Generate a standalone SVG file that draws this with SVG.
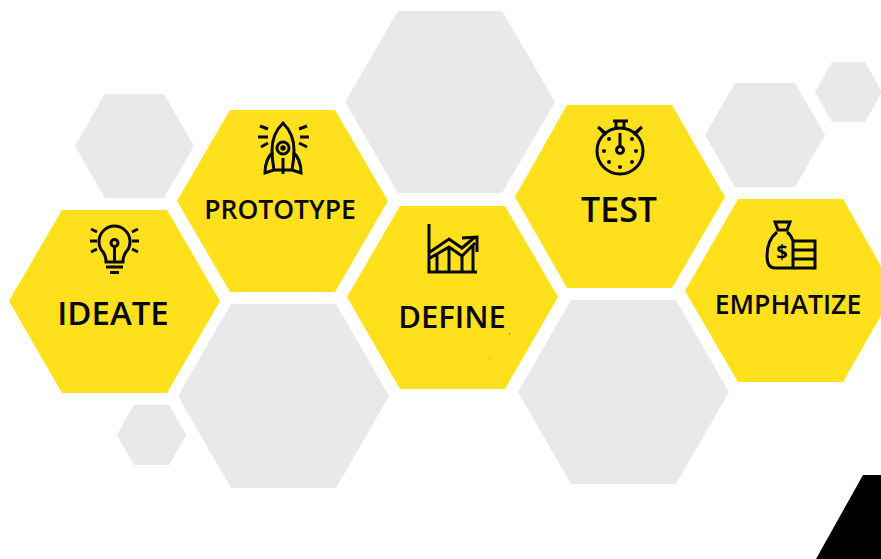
<svg xmlns="http://www.w3.org/2000/svg" width="881" height="559" viewBox="0 0 881 559">
<style>
.g{fill:#e9e9e9}
.y{fill:#fee11c}
.t{font-family:"Open Sans","Liberation Sans",sans-serif;font-weight:600;fill:#080808;text-anchor:middle}
.i{fill:none;stroke:#080808;stroke-width:3}
</style>
<rect width="881" height="559" fill="#fff"/>
<g id="backdrop">
<polygon class="g" points="345,102 398,11 502,11 555,102 502,193 398,193"/>
<polygon class="g" points="75,146 105,94 164,94 194,146 164,198 105,198"/>
<polygon class="g" points="178,396 231,304 336,304 389,396 336,488 231,488"/>
<polygon class="g" points="518,392 571,300 676,300 729,392 676,484 571,484"/>
<polygon class="g" points="117,435 134,405 169,405 186,435 169,465 134,465"/>
<polygon class="g" points="705,135 735,83 795,83 825,135 795,187 735,187"/>
<polygon class="g" points="815,92 832,62 865,62 882,92 865,122 832,122"/>
<polygon fill="#000" points="863,475 881,475 881,559 816,559"/>
</g>
<g id="ideate">
<polygon class="y" points="9,301 62,210 167,210 220,301 167,393 62,393"/>
<g class="i"><path d="M106 262q0-6-3-10a15.500 15.500 0 1 1 23 0q-3 4-3 10z"/><circle cx="114.500" cy="243" r="3.500"/><path d="M114.500 247v15M106 267h17M110 272.500h9M91 229l6 3M90 241h7M91 252l6-3M138 229l-6 3M139 241h-7M138 252l-6-3"/></g>
<text class="t" x="113" y="325" font-size="33">IDEATE</text>
</g>
<g id="prototype">
<polygon class="y" points="177,201 230,110 335,110 388,201 335,292 230,292"/>
<g class="i"><path d="M283 123q-11 11-11 27 0 9 2 20h18q2-11 2-20 0-16-11-27zM273 152q-8 7-8 21l9-3M293 152q8 7 8 21l-9-3M283 158v16"/><circle cx="283" cy="148" r="6"/><circle cx="283" cy="148" r="1.200" fill="#080808"/><path d="M260 126l8 3M258 137h10M261 147l7-4M307 126l-8 3M309 137h-9M307 147l-8-4"/></g>
<text class="t" x="280" y="219" font-size="26.500">PROTOTYPE</text>
</g>
<g id="define">
<polygon class="y" points="347,297 400,206 505,206 558,297 505,389 400,389"/>
<g class="i"><path d="M429 224v48h48M430 252l19-13 13 9 13-11M430 258l19-11 13 9 13-13M462 238l15-1v15M437 254v18M449 247v25M462 256v16M473 245v27"/></g>
<text class="t" x="452" y="328" font-size="31">DEFINE</text>
<path fill="#8a8a50" d="M509 333h1v2h-1zM489 358h1v1h-1z"/>
</g>
<g id="test">
<polygon class="y" points="515,197 567,105 672,105 725,197 672,288 567,288"/>
<g class="i"><circle cx="620" cy="151" r="23"/><path d="M613 121h15M616 121v7M624 121v7M598 127l7 6M642 127l-7 6M601 130l5 5M639 130l-5 5M620 133v14"/><circle cx="620" cy="150" r="3.500"/></g>
<g fill="#080808"><circle cx="609" cy="139" r="2"/><circle cx="632" cy="139" r="2"/><circle cx="604" cy="151" r="2"/><circle cx="636" cy="151" r="2"/><circle cx="609" cy="162" r="2"/><circle cx="632" cy="162" r="2"/><circle cx="620" cy="167" r="2"/></g>
<text class="t" x="619" y="222" font-size="34">TEST</text>
</g>
<g id="emphatize">
<polygon class="y" points="685,291 738,199 843,199 895,291 843,382 738,382"/>
<g class="i"><path d="M775 222h15l-3 8h-9zM777 232q-10 8-10 24 0 12 8 12h18M787 232q4 3 6 9M793 241h22v27h-22zM793 250h22M793 259h22"/></g>
<text x="782" y="259" font-family="Open Sans,sans-serif" font-weight="700" font-size="20" text-anchor="middle" fill="#080808">$</text>
<text class="t" x="788" y="314" font-size="26.600">EMPHATIZE</text>
</g>
</svg>
